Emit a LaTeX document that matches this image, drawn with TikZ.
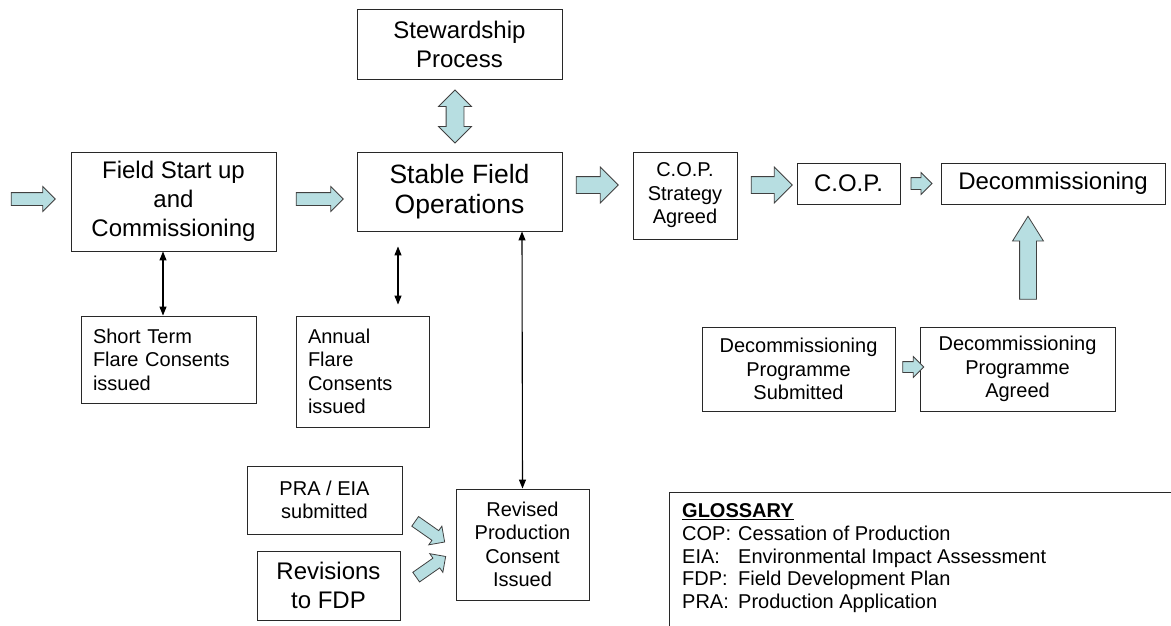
\documentclass[tikz,border=0pt]{standalone}
\usepackage{fontspec}
\setmainfont{Liberation Sans}
\usetikzlibrary{shapes.arrows,arrows.meta}

\definecolor{arrowfill}{RGB}{183,222,225}
\definecolor{arrowline}{RGB}{64,64,64}
\definecolor{boxline}{RGB}{40,40,40}

\tikzset{
  box/.style={draw=boxline,line width=0.9pt,align=center,inner sep=0pt},
  bigtext/.style={font=\fontsize{24}{29}\selectfont},
  smalltext/.style={font=\fontsize{20}{23.5}\selectfont},
  fatarrow/.style={single arrow,draw=arrowline,fill=arrowfill,line width=0.8pt,
    inner xsep=0pt,inner ysep=6pt,single arrow head extend=6pt,minimum height=44pt},
  link/.style={line width=1.1pt,{Triangle[length=9pt,width=7pt]}-{Triangle[length=9pt,width=7pt]}}
}

\begin{document}
\begin{tikzpicture}[x=1pt,y=-1pt]
\useasboundingbox (0,0) rectangle (1171,626);
%\draw[help lines] (0,0) grid[step=50] (1171,626);

% main line
\node[box,bigtext,minimum width=205pt,minimum height=70pt] (steward) at (459.5,44) {Stewardship\\Process};
\node[box,bigtext,minimum width=205pt,minimum height=99pt] (startup) at (173.5,201.5) {Field Start up\\and\\Commissioning};
\node[box,font=\fontsize{26.5}{30}\selectfont,minimum width=205pt,minimum height=79pt] (stable) at (459.5,191.5) {Stable Field\\Operations};
\node[box,smalltext,minimum width=104pt,minimum height=87pt] (copstrat) at (685,195.5) {C.O.P.\\Strategy\\Agreed};
\node[box,bigtext,minimum width=103pt,minimum height=41pt] (cop) at (848.5,183.5) {C.O.P.};
\node[box,bigtext,minimum width=224pt,minimum height=41pt] (decom) at (1053,183.5) {Decommissioning};

% flare consents
\node[box,smalltext,align=left,text width=151pt,inner xsep=12pt,minimum height=87pt] (shortterm) at (168.5,359.5) {Short Term\\Flare Consents\\issued};
\node[box,smalltext,align=left,text width=109pt,inner xsep=12pt,minimum height=111pt] (annual) at (362.5,371.5) {Annual\\Flare\\Consents\\issued};

% decommissioning programme
\node[box,smalltext,minimum width=193pt,minimum height=84pt] (dpsub) at (798.5,369) {Decommissioning\\Programme\\Submitted};
\node[box,smalltext,minimum width=195pt,minimum height=84pt] (dpagree) at (1017.5,369) {Decommissioning\\Programme\\Agreed};

% revisions
\node[box,smalltext,minimum width=155pt,minimum height=68pt] (praeia) at (324.5,500) {PRA / EIA\\submitted};
\node[box,bigtext,minimum width=143pt,minimum height=69pt] (revfdp) at (328.5,585.5) {Revisions\\to FDP};
\node[box,smalltext,minimum width=133pt,minimum height=111pt] (revised) at (522.5,544.5) {Revised\\Production\\Consent\\Issued};

% block arrows
\node[fatarrow] (inarrow) at (30,199) {};
\node[fatarrow,minimum height=47pt] (toStable) at (316.5,199) {};
\node[fatarrow,minimum height=42pt,inner ysep=8pt,single arrow head extend=9.5pt] (toStrat) at (593,185) {};
\node[fatarrow,minimum height=41pt,inner ysep=8pt,single arrow head extend=9.5pt] (toCop) at (767.5,185) {};
\node[fatarrow,minimum height=21pt,inner ysep=5.5pt,single arrow head extend=5pt] (toDecom) at (918.5,183.5) {};
\node[fatarrow,minimum height=21pt,inner ysep=5pt,single arrow head extend=5pt] (toAgree) at (910.5,367) {};
\node[fatarrow,rotate=90,minimum height=83pt,inner ysep=8pt,single arrow head extend=7pt,single arrow tip angle=64] (upDecom) at (1028,264.5) {};
\node[fatarrow,double arrow,rotate=90,minimum height=53pt,inner ysep=8.5pt,double arrow head extend=7.5pt] (stewArrow) at (455,116.5) {};
\node[fatarrow,rotate=-35,minimum height=36pt,inner ysep=5.5pt,single arrow head extend=5.5pt] (fromPra) at (427.5,530) {};
\node[fatarrow,rotate=35,minimum height=36pt,inner ysep=5.5pt,single arrow head extend=5.5pt] (fromFdp) at (428.5,568.5) {};

% thin links
\draw[link] ([xshift=-10.5pt]startup.south) -- ([xshift=-5.5pt]shortterm.north);
\draw[link,shorten <=15pt,shorten >=11pt] ([xshift=-61.5pt]stable.south) -- ([xshift=35.5pt]annual.north);
\draw[link] ([xshift=62.5pt]stable.south) -- (revised.north);

% glossary
\draw[boxline,line width=0.9pt] (1171,492) -- (669,492) -- (669,626);
\node[anchor=north west,align=left,inner sep=0pt,font=\fontsize{20}{22.7}\selectfont] (gloss) at (682,503.5)
  {\textbf{\underline{GLOSSARY}}\\
   \makebox[56pt][l]{COP:}Cessation of Production\\
   \makebox[56pt][l]{EIA:}Environmental Impact Assessment\\
   \makebox[56pt][l]{FDP:}Field Development Plan\\
   \makebox[56pt][l]{PRA:}Production Application};
\end{tikzpicture}
\end{document}
